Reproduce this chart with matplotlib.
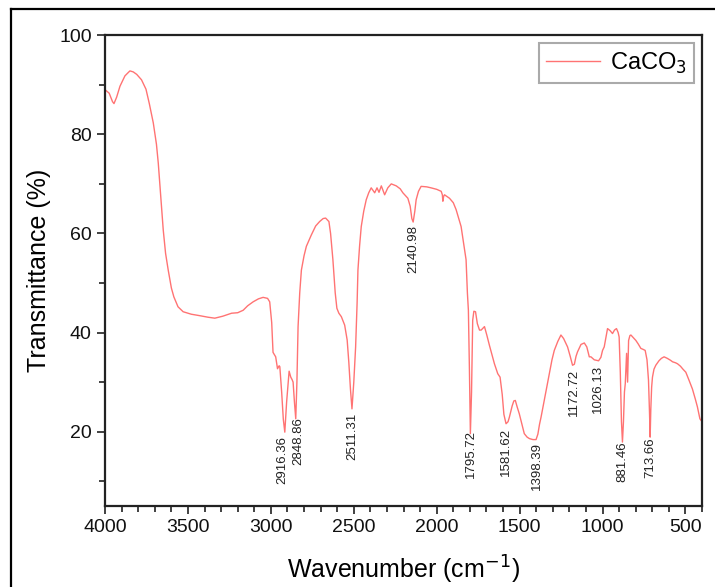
import numpy as np
import matplotlib
matplotlib.use('Agg')
import matplotlib.pyplot as plt
from matplotlib.lines import Line2D
from matplotlib.ticker import MultipleLocator

# FTIR spectrum of CaCO3
wavenumber = [4000, 3975, 3955, 3946, 3930, 3910, 3880, 3850, 3830, 3809, 3780, 3753, 3733,
              3709, 3690, 3679, 3665, 3649, 3635, 3619, 3600, 3585, 3560, 3529, 3480, 3428,
              3380, 3338, 3290, 3237, 3200, 3167, 3140, 3107, 3075, 3047, 3020, 3007, 2995,
              2987, 2971, 2960, 2950, 2946, 2935, 2925, 2916, 2905, 2890, 2880, 2872, 2866,
              2858, 2850, 2843, 2836, 2826, 2816, 2800, 2786, 2756, 2730, 2706, 2685, 2670,
              2650, 2640, 2626, 2612, 2602, 2590, 2575, 2555, 2540, 2530, 2520, 2511, 2500,
              2489, 2480, 2475, 2465, 2455, 2440, 2425, 2410, 2395, 2374, 2360, 2348, 2334,
              2314, 2295, 2274, 2244, 2220, 2204, 2174, 2160, 2150, 2142, 2132, 2124, 2110,
              2094, 2060, 2034, 2000, 1973, 1966, 1963, 1958, 1953, 1923, 1900, 1883, 1865,
              1853, 1840, 1823, 1815, 1809, 1803, 1797, 1790, 1783, 1776, 1766, 1755, 1742,
              1732, 1712, 1698, 1682, 1665, 1652, 1632, 1618, 1605, 1595, 1582, 1570, 1562,
              1545, 1535, 1526, 1515, 1502, 1490, 1472, 1455, 1441, 1420, 1401, 1390, 1380,
              1371, 1345, 1321, 1305, 1291, 1270, 1251, 1235, 1211, 1195, 1181, 1170, 1160,
              1151, 1130, 1110, 1095, 1080, 1070, 1050, 1024, 1010, 1000, 990, 970, 955,
              940, 928, 916, 906, 900, 893, 886, 880, 874, 868, 863, 858, 855, 851, 849,
              846, 843, 835, 829, 815, 799, 785, 769, 755, 743, 732, 723, 717, 713, 709,
              704, 699, 690, 679, 660, 645, 629, 610, 590, 578, 560, 548, 530, 515, 498,
              480, 458, 440, 428, 413, 400]
transmittance = [89.0, 88.3, 86.6, 86.2, 87.5, 89.7, 91.8, 92.8, 92.6, 92.1, 91.0, 89.1, 86.2,
                 82.3, 78.0, 74.2, 68.0, 60.7, 56.0, 52.6, 49.0, 47.2, 45.2, 44.2, 43.7, 43.4,
                 43.1, 42.9, 43.3, 43.9, 44.0, 44.5, 45.4, 46.2, 46.8, 47.1, 46.9, 46.2, 42.0,
                 36.0, 35.1, 32.7, 33.3, 33.1, 28.0, 22.5, 19.9, 26.0, 32.2, 31.0, 30.5, 30.0,
                 26.0, 22.6, 30.0, 41.2, 48.0, 52.6, 55.5, 57.4, 59.7, 61.5, 62.4, 63.0, 63.1,
                 62.4, 60.0, 54.7, 48.0, 44.9, 43.9, 43.2, 41.5, 38.5, 34.0, 28.5, 24.6, 30.0,
                 37.1, 46.0, 52.6, 57.5, 61.4, 64.5, 66.8, 68.2, 69.2, 68.2, 69.2, 68.3, 69.6,
                 67.8, 69.2, 70.0, 69.6, 69.0, 68.2, 67.1, 65.5, 63.0, 62.3, 64.5, 66.8, 68.5,
                 69.5, 69.4, 69.2, 68.9, 68.5, 67.8, 66.5, 67.5, 67.8, 67.1, 66.2, 64.8, 62.8,
                 61.4, 58.5, 54.7, 48.0, 44.5, 33.0, 19.6, 28.0, 42.5, 44.3, 44.2, 41.8, 40.5,
                 40.5, 41.2, 39.5, 37.4, 35.3, 33.7, 31.7, 31.0, 27.5, 23.5, 21.6, 22.0, 22.9,
                 25.2, 26.2, 26.3, 25.0, 23.6, 22.0, 19.6, 18.9, 18.6, 18.4, 18.4, 19.5, 21.5,
                 22.9, 27.5, 31.7, 34.5, 36.4, 38.2, 39.5, 38.8, 37.1, 35.2, 33.4, 33.6, 35.2,
                 36.1, 37.6, 37.9, 37.1, 35.1, 35.1, 34.5, 34.3, 35.0, 36.4, 37.1, 40.8, 40.4,
                 39.8, 40.5, 40.8, 40.0, 39.1, 32.0, 22.0, 17.9, 22.0, 28.0, 29.7, 33.5, 35.8,
                 32.0, 30.0, 34.5, 38.4, 39.4, 39.5, 39.0, 38.4, 37.7, 36.8, 36.6, 36.4, 34.5,
                 30.4, 24.0, 18.9, 24.5, 29.0, 31.0, 32.6, 33.4, 34.3, 34.8, 35.1, 34.8, 34.4,
                 34.1, 33.9, 33.7, 33.2, 32.6, 32.0, 30.5, 28.6, 26.5, 25.0, 22.6, 22.0]

peaks = [2916.36, 2848.86, 2511.31, 2140.98, 1795.72, 1581.62, 1398.39, 1172.72,
         1026.13, 881.46, 713.66]

plt.rcParams['font.family'] = ['Liberation Sans', 'DejaVu Sans']

fig = plt.figure(figsize=(7.15, 5.87), dpi=100)
ax = fig.add_axes([0.1469, 0.138, 0.835, 0.802])

wn = np.array(wavenumber)
tr = np.array(transmittance)
ax.plot(wn, tr, color='#ff7373', lw=1.0, label='CaCO$_3$')

# peak labels just under each dip (the two close C-H peaks pushed apart a little)
for p in peaks:
    yv = np.interp(p, wn[::-1], tr[::-1])
    dx = 0
    if p == 2916.36: dx = -1.5
    if p == 2848.86: dx = 1.5
    ax.annotate('%.2f' % p, xy=(p, yv), xytext=(dx, -3), textcoords='offset points',
                rotation=90, ha='center', va='top', fontsize=9.5, color='#222222')

ax.set_xlim(4000, 400)
ax.set_ylim(5, 100)
ax.xaxis.set_major_locator(MultipleLocator(500))
ax.xaxis.set_minor_locator(MultipleLocator(100))
ax.yaxis.set_major_locator(MultipleLocator(20))
ax.yaxis.set_minor_locator(MultipleLocator(10))
ax.set_yticks([20, 40, 60, 80, 100])
ax.tick_params(which='major', direction='out', length=6, width=1.3, labelsize=14, colors='#333333')
ax.tick_params(which='minor', direction='out', length=4, width=1.3, colors='#333333')
ax.tick_params(labelcolor='#111111')
for s in ax.spines.values():
    s.set_linewidth(1.6)
    s.set_color('#222222')

ax.set_xlabel('Wavenumber (cm$^{-1}$)', fontsize=18, labelpad=13)
ax.set_ylabel('Transmittance (%)', fontsize=18, labelpad=6)

leg = ax.legend(loc='upper right', fontsize=17, handlelength=2.3, handletextpad=0.4,
                borderpad=0.3, borderaxespad=0.35, fancybox=False, framealpha=1)
leg.get_frame().set_edgecolor('#aaaaaa')
leg.get_frame().set_linewidth(1.5)

# outer frame of the picture
fig.add_artist(Line2D([0.0154, 0.0154], [0, 0.9847], color='black', lw=1.6))
fig.add_artist(Line2D([0.0154, 1.0], [0.9847, 0.9847], color='black', lw=1.6))

plt.savefig('out.png', dpi=100)
plt.close()
